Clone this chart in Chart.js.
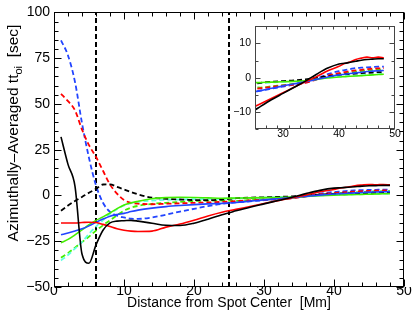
<!DOCTYPE html>
<html>
<head>
  <script src="https://cdn.jsdelivr.net/npm/chart.js"></script>
  <style>
    body { margin: 0; background: #fff; }
    #wrap { position: relative; width: 415px; height: 322px; }
    #mainChart { position: absolute; left: 0; top: 0; }
    #insetChart { position: absolute; left: 222px; top: 16px; }
  </style>
</head>
<body>
  <div id="wrap">
    <canvas id="mainChart" width="415" height="322"></canvas>
    <canvas id="insetChart" width="190" height="130"></canvas>
  </div>

  <script>
    // distance from spot center [Mm]
    var distance = [1, 2, 3, 4, 5, 6, 7, 8, 9, 10, 11, 12, 14, 16, 18, 20, 22, 24,
                    26, 28, 30, 32, 34, 36, 38, 40, 41, 42, 43, 44, 45, 46, 47, 48];

    // travel times [sec]
    var blackSolid  = [32, 17, 5, -32, -37, -27, -19, -15, -14, -13.8, -13.6, -14, -15.2, -16.3, -16.4, -15.2, -13, -10.5,
                       -8.4, -6.4, -4.6, -2.8, -1, 1, 2.8, 4, 4.2, 4.5, 4.8, 5.1, 5.3, 5.4, 5.5, 5.5];
    var redSolid    = [-15, -15, -15, -14.8, -14.6, -14.8, -15.8, -17, -18.2, -19, -19.5, -19.7, -19.5, -17.3, -15.6, -13.5, -11.2, -9.2,
                       -7.6, -6, -4.4, -2.8, -1.2, 0.3, 2, 3.3, 4.1, 4.6, 5.3, 5.7, 6, 5.8, 6, 5.8];
    var blueSolid   = [-21.5, -20.5, -19.4, -18.2, -16.6, -14.7, -12.9, -11.3, -10.4, -9.8, -8.8, -8, -6.9, -6.1, -5.5, -5, -4.6, -4.3,
                       -3.8, -3.1, -2.4, -1.8, -1.2, -0.5, 0.2, 0.8, 1, 1.2, 1.4, 1.6, 1.8, 1.9, 2, 2.1];
    var greenSolid  = [-25.8, -24, -21.5, -18.8, -16, -13.6, -11.7, -9.6, -7.2, -5.2, -4, -3.2, -1.8, -1.2, -1, -1.1, -1.3, -1.5,
                       -1.4, -1.3, -1.2, -1.1, -0.9, -0.5, -0.1, 0.2, 0.3, 0.4, 0.5, 0.6, 0.7, 0.8, 0.9, 1];
    var blackDashed = [-8.3, -5.5, -3, -0.8, 1.5, 3.6, 6, 6.1, 4.7, 3.3, 1.9, 0.6, -1.2, -1.8, -2.2, -2.5, -2.6, -2.2,
                       -1.5, -1.2, -1, -0.8, -0.5, 0, 0.4, 0.8, 1, 1.1, 1.2, 1.3, 1.4, 1.5, 1.6, 1.6];
    var redDashed   = [55.5, 51.5, 46.5, 36, 27.5, 21, 13.5, 6, 1, -2.5, -4, -4.5, -4.8, -4.5, -4.3, -4, -3.8, -3.5,
                       -3.1, -2.7, -2.3, -2, -1.5, -0.5, 0.6, 1.3, 1.6, 1.9, 2.1, 2.3, 2.5, 2.6, 2.7, 2.8];
    var blueDashed  = [84.7, 76.5, 62, 39.5, 20.5, 5.5, -4, -9, -11, -12, -12.7, -12.8, -12, -10.5, -8.8, -7.3, -5.8, -4.6,
                       -3.8, -3.2, -2.6, -2, -1.4, -0.3, 1, 1.9, 2.2, 2.5, 2.8, 2.9, 3, 3.1, 3.2, 3.2];
    var cyanDashed  = [-35.5, -32.5, -29, -25.5, -21, -17, -13.5, -10, -7.5, -5.5, -4.2, -3.5, -2.8, -2.4, -2.2, -2, -1.9, -1.8,
                       -1.6, -1.4, -1.2, -1, -0.8, -0.4, 0, 0.3, 0.4, 0.5, 0.6, 0.7, 0.8, 0.9, 1, 1.1];
    var greenDashed = [-34, -31.5, -28.5, -25.5, -22.5, -19.2, -16.3, -13.6, -10.8, -8.3, -6.7, -5.7, -4.6, -4, -3.5, -3.1, -2.8, -2.8,
                       -2.9, -2.5, -2.2, -1.8, -1.3, -0.4, 0.4, 1, 1.3, 1.5, 1.7, 1.9, 2.1, 2.2, 2.3, 2.4];

    // vertical marker positions [Mm]
    var markers = [6, 25];

    // tick labels
    var xTicks = [0, 10, 20, 30, 40, 50];
    var yTicks = [-50, -25, 0, 25, 50, 75, 100];
    var insetXTicks = [30, 40, 50];
    var insetYTicks = [-10, 0, 10];

    var FONT = '"Liberation Sans", Arial, sans-serif';

    function pts(ys) {
      return distance.map(function(d, i) { return {x: d, y: ys[i]}; });
    }

    function series(ys, color, dashed) {
      return {
        data: pts(ys),
        borderColor: color,
        borderWidth: dashed ? 1.8 : 1.6,
        borderDash: dashed ? [5, 3] : [],
        pointRadius: 0,
        fill: false,
        cubicInterpolationMode: 'monotone'
      };
    }

    function allSeries() {
      return [
        series(blackSolid, '#000000', false),
        series(redSolid, '#ff0000', false),
        series(blueSolid, '#2244ff', false),
        series(greenSolid, '#44ee00', false),
        series(blackDashed, '#000000', true),
        series(redDashed, '#ff0000', true),
        series(blueDashed, '#2244ff', true),
        series(cyanDashed, '#60ffe0', true),
        series(greenDashed, '#44ee00', true)
      ];
    }

    function minus(v) { return String(v).replace('-', '\u2212'); }

    // box round the plot with inward ticks on all four sides
    var frameTicks = {
      id: 'frameTicks',
      afterDatasetsDraw: function(chart, args, o) {
        var ctx = chart.ctx, a = chart.chartArea, sx = chart.scales.x, sy = chart.scales.y;
        ctx.save();
        ctx.strokeStyle = o.color;
        ctx.lineWidth = 1;
        ctx.setLineDash([]);
        var L = Math.round(a.left) + 0.5, R = Math.round(a.right) - 0.5;
        var T = Math.round(a.top) + 0.5, B = Math.round(a.bottom) - 0.5;
        ctx.strokeRect(L, T, R - L, B - T);
        ctx.beginPath();
        var v, p, len;
        for (v = sx.min; v <= sx.max + 1e-9; v += o.xMinor) {
          p = Math.round(sx.getPixelForValue(v)) + 0.5;
          len = (Math.abs(v / o.xMajor - Math.round(v / o.xMajor)) < 1e-6) ? o.major : o.minor;
          ctx.moveTo(p, B); ctx.lineTo(p, B - len);
          ctx.moveTo(p, T); ctx.lineTo(p, T + len);
        }
        for (v = sy.min; v <= sy.max + 1e-9; v += o.yMinor) {
          p = Math.round(sy.getPixelForValue(v)) + 0.5;
          len = (Math.abs(v / o.yMajor - Math.round(v / o.yMajor)) < 1e-6) ? o.major : o.minor;
          ctx.moveTo(L, p); ctx.lineTo(L + len, p);
          ctx.moveTo(R, p); ctx.lineTo(R - len, p);
        }
        ctx.stroke();
        ctx.restore();
      }
    };

    // axis titles of the main plot (the y title has a subscript)
    var axisTitles = {
      id: 'axisTitles',
      afterDraw: function(chart) {
        var ctx = chart.ctx, a = chart.chartArea;
        ctx.save();
        ctx.fillStyle = '#000';
        ctx.font = '14px ' + FONT;
        ctx.textAlign = 'center';
        ctx.textBaseline = 'alphabetic';
        ctx.fillText('Distance from Spot Center  [Mm]', (a.left + a.right) / 2, 307);

        ctx.translate(18, 133);
        ctx.rotate(-Math.PI / 2);
        ctx.textAlign = 'left';
        var p1 = 'Azimuthally\u2013Averaged tt', sub = 'oi', p2 = '  [sec]';
        ctx.font = '15.5px ' + FONT;
        var w1 = ctx.measureText(p1).width, w3 = ctx.measureText(p2).width;
        ctx.font = '11px ' + FONT;
        var w2 = ctx.measureText(sub).width;
        var x0 = -(w1 + w2 + w3) / 2;
        ctx.font = '15.5px ' + FONT;
        ctx.fillText(p1, x0, 0);
        ctx.fillText(p2, x0 + w1 + w2, 0);
        ctx.font = '11px ' + FONT;
        ctx.fillText(sub, x0 + w1, 4);
        ctx.restore();
      }
    };

    function scale(min, max, list, size, pad, fitSize, horizontal) {
      return {
        type: 'linear',
        min: min,
        max: max,
        grid: { display: false, drawTicks: false, tickLength: 0 },
        border: { display: false },
        afterBuildTicks: function(s) {
          s.ticks = list.map(function(v) { return {value: v}; });
        },
        afterFit: function(s) {
          if (horizontal) { s.height = fitSize; } else { s.width = fitSize; }
        },
        ticks: {
          color: '#000',
          font: { family: FONT, size: size },
          padding: pad,
          maxRotation: 0,
          autoSkip: false,
          callback: function(v) { return minus(v); }
        }
      };
    }

    // main plot
    var mainData = allSeries();
    markers.forEach(function(m) {
      mainData.push({
        data: [{x: m, y: -50}, {x: m, y: 100}],
        borderColor: '#000',
        borderWidth: 2,
        borderDash: [5, 3],
        pointRadius: 0,
        fill: false
      });
    });

    new Chart(document.getElementById('mainChart'), {
      type: 'line',
      data: { datasets: mainData },
      options: {
        responsive: false,
        animation: false,
        layout: { padding: { left: 0, top: 10, right: 11, bottom: 0 } },
        plugins: {
          legend: { display: false },
          tooltip: { enabled: false },
          frameTicks: { color: '#000', xMajor: 10, xMinor: 2, yMajor: 25, yMinor: 5, major: 7, minor: 4 }
        },
        scales: {
          x: scale(0, 50, xTicks, 14, -4, 35, true),
          y: scale(-50, 100, yTicks, 14, 4, 54, false)
        }
      },
      plugins: [frameTicks, axisTitles]
    });

    // inset: same curves, zoomed on 25-50 Mm
    new Chart(document.getElementById('insetChart'), {
      type: 'line',
      data: { datasets: allSeries() },
      options: {
        responsive: false,
        animation: false,
        layout: { padding: { left: 0, top: 8, right: 17, bottom: 0 } },
        plugins: {
          legend: { display: false },
          tooltip: { enabled: false },
          frameTicks: { color: '#444', xMajor: 10, xMinor: 2, yMajor: 10, yMinor: 5, major: 5, minor: 3 }
        },
        scales: {
          x: scale(25, 50, insetXTicks, 10.5, -1, 17, true),
          y: scale(-15, 15, insetYTicks, 10.5, 4, 33, false)
        }
      },
      plugins: [frameTicks]
    });
  </script>
</body>
</html>
